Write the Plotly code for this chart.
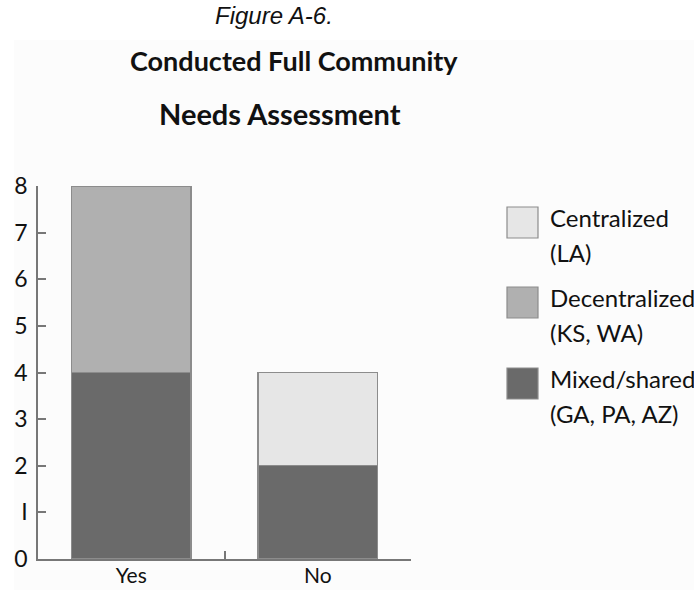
import plotly.graph_objects as go

# Data
categories = ["Yes", "No"]
series_names = ["Mixed/shared", "Decentralized", "Centralized"]
series_states = ["(GA, PA, AZ)", "(KS, WA)", "(LA)"]
mixed_shared = [4, 2]
decentralized = [4, 0]
centralized = [0, 2]
series_values = [mixed_shared, decentralized, centralized]
series_colors = ["#6a6a6a", "#b0b0b0", "#e6e6e6"]
y_ticks = [0, 1, 2, 3, 4, 5, 6, 7, 8]
y_tick_text = ["0", "I", "2", "3", "4", "5", "6", "7", "8"]

W, H = 694, 590
L, R, T, B = 38, 411, 186, 559  # plot area in pixels

def px_x(x):
    return (x - L) / (R - L)

def px_y(y):
    return (B - y) / (B - T)

FONT = "Lato"

fig = go.Figure()
for name, vals, col in zip(series_names, series_values, series_colors):
    fig.add_trace(go.Bar(
        x=categories, y=vals, name=name,
        marker=dict(color=col, line=dict(color="#8c8c8c", width=1.2)),
        width=0.64, showlegend=False,
    ))

shapes = [
    # faint panel tint behind the chart
    dict(type="rect", xref="paper", yref="paper", layer="below",
         x0=px_x(14), x1=px_x(W + 5), y0=px_y(H + 5), y1=px_y(40),
         fillcolor="#fcfcfc", line=dict(width=0)),
]
annotations = [
    dict(text="<i>Figure A-6.</i>", xref="paper", yref="paper",
         x=px_x(274), y=px_y(16), showarrow=False,
         font=dict(family="Liberation Sans", size=24, color="#111"),
         xanchor="center", yanchor="middle"),
    dict(text="<b>Conducted Full Community</b>", xref="paper", yref="paper",
         x=px_x(294), y=px_y(60), showarrow=False,
         font=dict(family=FONT, size=27, color="#111"),
         xanchor="center", yanchor="middle"),
    dict(text="<b>Needs Assessment</b>", xref="paper", yref="paper",
         x=px_x(280), y=px_y(113), showarrow=False,
         font=dict(family=FONT, size=29, color="#111"),
         xanchor="center", yanchor="middle"),
]

# Legend drawn as swatches with two-line labels, top to bottom
legend_tops = [207, 287, 368]
order = [2, 1, 0]
for top, idx in zip(legend_tops, order):
    shapes.append(dict(type="rect", xref="paper", yref="paper",
                       x0=px_x(507), x1=px_x(538), y0=px_y(top + 31), y1=px_y(top),
                       fillcolor=series_colors[idx],
                       line=dict(color="#8c8c8c", width=1.2)))
    annotations.append(dict(text=series_names[idx], xref="paper", yref="paper",
                            x=px_x(548), y=px_y(top + 10), showarrow=False,
                            xanchor="left", yanchor="middle",
                            font=dict(family=FONT, size=24, color="#111")))
    annotations.append(dict(text=series_states[idx], xref="paper", yref="paper",
                            x=px_x(548), y=px_y(top + 45), showarrow=False,
                            xanchor="left", yanchor="middle",
                            font=dict(family=FONT, size=24, color="#111")))

fig.update_layout(
    barmode="stack",
    width=W, height=H,
    margin=dict(l=L, r=W - R, t=T, b=H - B, autoexpand=False),
    paper_bgcolor="white", plot_bgcolor="rgba(0,0,0,0)",
    font=dict(family=FONT, size=23, color="#111"),
    shapes=shapes, annotations=annotations,
    bargap=0.36,
)
fig.update_xaxes(
    type="category", range=[-0.5, 1.5],
    showline=True, linecolor="#777", linewidth=1.5,
    ticks="inside", ticklen=8, tickcolor="#777", tickwidth=1.5,
    tickson="boundaries", showgrid=False, zeroline=False,
    ticklabelstandoff=-3,
    tickfont=dict(family=FONT, size=21, color="#111"),
)
fig.update_yaxes(
    range=[0, 8], tickvals=y_ticks, ticktext=y_tick_text,
    showline=True, linecolor="#777", linewidth=1.5,
    ticks="inside", ticklen=8, tickcolor="#777", tickwidth=1.5,
    showgrid=False, zeroline=False, ticklabelstandoff=4,
    tickfont=dict(family=FONT, size=23, color="#111"),
)

fig.write_html("out.html")
